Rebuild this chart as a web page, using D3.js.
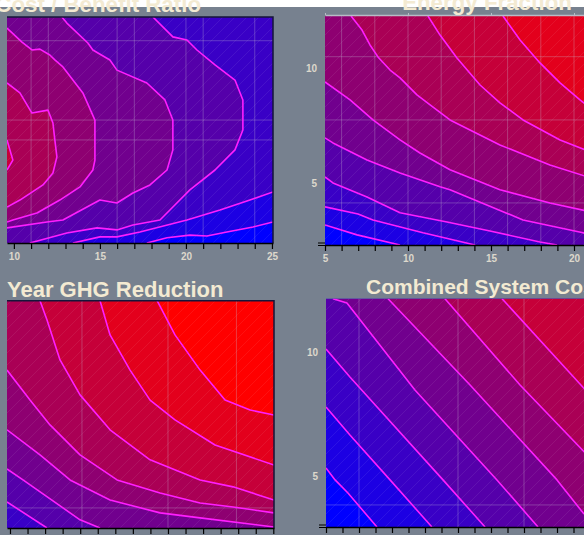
<!DOCTYPE html>
<html>
<head>
<meta charset="utf-8">
<script src="https://cdn.jsdelivr.net/npm/d3@7/dist/d3.min.js"></script>
<style>
  body { margin: 0; background: #77818f; overflow: hidden; }
  svg { display: block; }
</style>
</head>
<body>
<script>
// contour lines, lowest level first.
// each line is walked with the higher side on its right.

// Cost / Benefit Ratio
const costBase = 0;
const costLines = [
  [[25.06,3.23],[23.9,3.01],[22.38,2.79],[21.22,2.61],[20.23,2.65],[18.9,2.53],[17.73,2.3]],
  [[25.06,4.56],[23.72,4.2],[21.98,3.76],[20.06,3.32],[17.33,2.79],[15.99,2.57],[15,2.57],[13.43,2.3]],
  [[18.08,12.3],[19.24,11.42],[20.06,11.28],[20.64,10.84],[21.69,10.18],[22.85,9.51],[23.31,8.63],[23.31,7.3],[22.85,6.42],[21.69,5.53],[20.23,4.65],[19.07,3.76],[18.49,3.32],[16.92,3.1],[15.99,2.88],[14.83,2.97],[13.08,2.74],[10.93,2.3]],
  [[12.79,12.3],[13.08,12.03],[14.3,11.15],[14.59,10.84],[15.58,10.4],[15.99,9.95],[17.73,9.38],[18.78,8.63],[19.24,7.74],[19.24,6.42],[18.9,5.53],[17.91,4.87],[16.92,4.51],[15.99,4.07],[15,4.2],[12.85,3.32],[11.92,3.23],[9.6,2.97]],
  [[9.6,11.81],[10.47,11.19],[11.05,10.84],[11.51,10.88],[12.09,10.62],[12.38,10.4],[12.85,10.09],[14.01,8.94],[14.71,7.74],[14.71,5.97],[14.59,5.53],[13.84,4.78],[12.67,4.2],[11.34,3.63],[9.94,3.32],[9.6,3.23]],
  [[9.6,9.38],[10.35,8.94],[11.05,8.05],[11.98,8.18],[12.27,7.61],[12.38,6.86],[12.5,6.11],[12.27,5.4],[11.69,4.87],[10.35,4.2],[9.6,3.89]],
  [[9.6,6.86],[9.94,5.97],[9.6,5.53]]
];
const costGridX = [11, 12, 16, 17, 20, 21, 24];
const costGridY = [11.25, 7.74, 6.86];
const costLabels = [10, 15, 20, 25];

// Energy Fraction
const energyBase = 0;
const energyLines = [
  [[9.52,2.3],[6.93,2.74],[5,3.17]],
  [[14.04,2.3],[10.9,2.83],[7.89,3.39],[6.99,3.65],[5,3.96]],
  [[18.98,2.3],[17.95,2.43],[14.94,2.91],[12.35,3.3],[9.52,3.7],[7.53,4.39],[5.48,5],[5,5.26]],
  [[21,2.74],[20.54,2.83],[16.93,3.39],[12.53,4.7],[11.93,4.83],[9.52,5.43],[7.53,6],[5.48,6.74],[5,6.96]],
  [[21,3.74],[18.55,4.13],[15.54,4.7],[12.53,5.57],[10.72,6.3],[9.52,6.87],[7.89,7.74],[6.51,8.61],[5,9.39]],
  [[21,5.22],[18.55,5.78],[15.54,6.65],[12.53,7.74],[11.51,8.3],[10.54,8.83],[9.52,9.57],[8.92,9.91],[8.19,10.48],[7.71,11],[7.23,11.65],[6.57,12.26]],
  [[21,6.35],[19.16,6.87],[16.93,7.74],[15.54,8.48],[14.34,9.26],[12.95,10.43],[11.93,11.43],[11.2,12.26]],
  [[21,8.26],[20.36,8.61],[19.16,9.35],[17.95,10.22],[16.75,11.22],[15.72,12.26]]
];
const energyGridX = [6, 8, 10, 12, 14, 16, 18, 20];
const energyGridY = [10.49, 7.74, 4.13];
const energyLabels = [5, 10, 15, 20];
const energyYLabels = [5, 10];

// Year GHG Reduction
const ghgBase = 2;
const ghgLines = [
  [[12.11,2.94],[9.83,3.99]],
  [[15.13,2.94],[13.99,3.27],[10.74,4.88],[9.83,5.32]],
  [[25.04,2.98],[20.83,3.35],[18.55,3.55],[15.7,4.07],[13.42,4.88],[11.71,5.89],[9.83,6.9]],
  [[25.04,3.55],[22.71,3.79],[20.83,3.95],[18.55,4.35],[16.1,4.88],[13.99,5.89],[12.28,7.1],[11.14,8.1],[9.83,9.31]],
  [[25.04,4.07],[22.71,4.6],[20.83,4.88],[17.98,5.69],[15.7,6.9],[13.99,8.31],[12.85,9.72],[12.11,11.33],[11.71,12.11]],
  [[25.04,5.48],[21.68,6.29],[19.4,7.3],[17.98,8.1],[16.84,9.31],[15.7,10.73],[15.13,12.11]],
  [[25.04,7.5],[23.68,7.7],[22.25,8.1],[20.83,9.31],[19.4,10.73],[18.38,12.11]]
];
const ghgGridX = [14.1, 19, 22.9];
const ghgGridY = [3.75];

// Combined System Cost
const comboBase = 0;
const comboLines = [
  [[8.09,2.94],[6.33,4.31],[5.55,4.84],[5,5.32]],
  [[11.42,2.94],[8.88,4.84],[6.45,6.65],[5,7.78]],
  [[14.64,2.94],[12.09,4.84],[6.45,8.99],[5,10.12]],
  [[17.85,2.94],[15.36,4.84],[10.39,8.47],[6.27,11.98],[5.42,12.15]],
  [[21,3.27],[20.58,3.51],[19,4.84],[13.73,8.67],[8.76,12.15]],
  [[21,5.73],[16.76,8.67],[12.21,12.15]],
  [[21,8.27],[15.67,12.15]]
];
const comboGridX = [7, 13, 17];
const comboGridY = [3.83];
const comboYLabels = [5, 10];

// ---- layout ----
const W = 584, H = 535;
const panels = [
  { title: "Cost / Benefit Ratio", tx: 201, ty: 12, anchor: "end", fs: 22.3,
    left: 7, right: 273, top: 17, bottom: 243, xDomain: [9.6, 25.06], yDomain: [2.3, 12.3],
    lines: costLines, base: costBase, gridX: costGridX, gridY: costGridY,
    xTicks: d3.range(10, 26), xLabels: costLabels, yLabels: [], border: true },
  { title: "Energy Fraction", tx: 487, ty: 10, anchor: "middle", fs: 22.3,
    left: 325, right: 590.6, top: 16, bottom: 245, xDomain: [5, 21], yDomain: [2.3, 12.26],
    lines: energyLines, base: energyBase, gridX: energyGridX, gridY: energyGridY,
    xTicks: d3.range(5, 22), xLabels: energyLabels, yLabels: energyYLabels, topAxis: true },
  { title: "Year GHG Reduction", tx: 7, ty: 297, anchor: "start", fs: 22,
    left: 7, right: 274, top: 300.7, bottom: 528, xDomain: [9.83, 25.04], yDomain: [2.94, 12.11],
    lines: ghgLines, base: ghgBase, gridX: ghgGridX, gridY: ghgGridY,
    xTicks: d3.range(10, 26), xLabels: [], yLabels: [], border: true },
  { title: "Combined System Cost", tx: 366, ty: 293.5, anchor: "start", fs: 21,
    left: 326, right: 590, top: 298.7, bottom: 527, xDomain: [5, 21], yDomain: [2.94, 12.15],
    lines: comboLines, base: comboBase, gridX: comboGridX, gridY: comboGridY,
    xTicks: d3.range(5, 22), xLabels: [], yLabels: comboYLabels }
];

const bandColor = d3.scaleLinear().domain([0, 9]).range(["#0000ff", "#ff0000"]);
const lineColor = "#ff1eff";
const labelFont = "bold 10px 'Liberation Sans', Arial, sans-serif";

const svg = d3.select("body").append("svg").attr("width", W).attr("height", H);
svg.append("rect").attr("width", W).attr("height", H).attr("fill", "#77818f");
svg.append("rect").attr("width", W).attr("height", 7).attr("fill", "#ffffff");

const defs = svg.append("defs");
defs.append("pattern")
  .attr("id", "hatch").attr("width", 12).attr("height", 12)
  .attr("patternUnits", "userSpaceOnUse")
  .append("path")
  .attr("d", "M-3,3L3,-3M0,12L12,0M9,15L15,9")
  .attr("stroke", "#ffffff").attr("stroke-opacity", 0.1).attr("stroke-width", 0.7);

// close a boundary-to-boundary polyline by walking the frame clockwise
function closeRing(pts, p) {
  const w = p.right - p.left, h = p.bottom - p.top, per = 2 * (w + h);
  const pos = ([x, y]) => {
    const d = [Math.abs(y - p.top), Math.abs(x - p.right), Math.abs(y - p.bottom), Math.abs(x - p.left)];
    const e = d.indexOf(Math.min(...d));
    if (e === 0) return x - p.left;
    if (e === 1) return w + (y - p.top);
    if (e === 2) return w + h + (p.right - x);
    return 2 * w + h + (p.bottom - y);
  };
  const corners = [[0, [p.left, p.top]], [w, [p.right, p.top]], [w + h, [p.right, p.bottom]], [2 * w + h, [p.left, p.bottom]]];
  const ts = pos(pts[pts.length - 1]);
  let te = pos(pts[0]);
  if (te < ts) te += per;
  const extra = [];
  corners.forEach(([c, pt]) => {
    [c, c + per].forEach(cc => { if (cc > ts && cc < te) extra.push([cc, pt]); });
  });
  extra.sort((a, b) => a[0] - b[0]);
  return pts.concat(extra.map(e => e[1]));
}

panels.forEach((p, i) => {
  const x = d3.scaleLinear().domain(p.xDomain).range([p.left, p.right]);
  const y = d3.scaleLinear().domain(p.yDomain).range([p.bottom, p.top]);
  const g = svg.append("g");

  defs.append("clipPath").attr("id", "clip" + i).append("rect")
    .attr("x", p.left).attr("y", p.top)
    .attr("width", p.right - p.left).attr("height", p.bottom - p.top);

  const plot = g.append("g").attr("clip-path", `url(#clip${i})`);

  // filled bands
  plot.append("rect")
    .attr("x", p.left).attr("y", p.top)
    .attr("width", p.right - p.left).attr("height", p.bottom - p.top)
    .attr("fill", bandColor(p.base));

  p.lines.forEach((pts, k) => {
    const px = pts.map(d => [x(d[0]), y(d[1])]);
    const ring = closeRing(px, p);
    plot.append("path")
      .attr("d", "M" + ring.map(q => q.join(",")).join("L") + "Z")
      .attr("fill", bandColor(p.base + k + 1));
  });

  // texture
  plot.append("rect")
    .attr("x", p.left).attr("y", p.top)
    .attr("width", p.right - p.left).attr("height", p.bottom - p.top)
    .attr("fill", "url(#hatch)");

  // grid
  plot.selectAll(".gx").data(p.gridX).enter().append("line")
    .attr("x1", d => x(d)).attr("x2", d => x(d))
    .attr("y1", p.top).attr("y2", p.bottom)
    .attr("stroke", "#c8c0d8").attr("stroke-opacity", 0.3).attr("stroke-width", 1);
  plot.selectAll(".gy").data(p.gridY).enter().append("line")
    .attr("y1", d => y(d)).attr("y2", d => y(d))
    .attr("x1", p.left).attr("x2", p.right)
    .attr("stroke", "#c8c0d8").attr("stroke-opacity", 0.3).attr("stroke-width", 1);

  // contour lines
  const line = d3.line().x(d => x(d[0])).y(d => y(d[1]));
  plot.selectAll(".cl").data(p.lines).enter().append("path")
    .attr("d", line)
    .attr("fill", "none")
    .attr("stroke", lineColor)
    .attr("stroke-width", 1.6)
    .attr("stroke-linejoin", "round");

  if (p.border) {
    g.append("path")
      .attr("d", `M${p.left},${p.top}H${p.right}V${p.bottom}`)
      .attr("fill", "none").attr("stroke", "#15153a").attr("stroke-width", 1.5);
  }

  // bottom axis
  const ax = g.append("g")
    .attr("transform", `translate(0,${p.bottom})`)
    .call(d3.axisBottom(x).tickValues(p.xTicks).tickSize(6).tickSizeOuter(0).tickPadding(4)
      .tickFormat(d => p.xLabels.includes(d) ? d : ""));
  ax.select(".domain").attr("stroke", "#000").attr("stroke-width", 1.5);
  ax.selectAll(".tick line").attr("stroke", "#000").attr("stroke-width", 1.2);
  ax.selectAll("text").attr("fill", "#ddd8cc").style("font", labelFont);

  if (p.yLabels.length) {
    const ay = g.append("g")
      .attr("transform", `translate(${p.left},0)`)
      .call(d3.axisLeft(y).tickValues(p.yLabels).tickSize(0).tickPadding(8));
    ay.select(".domain").remove();
    ay.selectAll("text").attr("fill", "#ddd8cc").style("font", labelFont);
    g.append("path")
      .attr("d", `M${p.left - 7},${p.bottom - 2}h7M${p.left - 7},${p.bottom + 0.5}h7`)
      .attr("stroke", "#000").attr("stroke-width", 1.2);
  }

  if (p.topAxis) {
    const at = g.append("g")
      .attr("transform", `translate(0,${p.top - 1})`)
      .call(d3.axisTop(x).tickValues(p.xLabels).tickSize(2).tickSizeOuter(0).tickFormat(""));
    at.select(".domain").attr("stroke", "#b8bcc6").attr("stroke-width", 1.5);
    at.selectAll(".tick line").attr("stroke", "#b8bcc6");
  }

  svg.append("text")
    .attr("x", p.tx).attr("y", p.ty)
    .attr("text-anchor", p.anchor)
    .attr("fill", "#f3ead2")
    .style("font", `bold ${p.fs}px 'Liberation Sans', Arial, sans-serif`)
    .text(p.title);
});
</script>
</body>
</html>
